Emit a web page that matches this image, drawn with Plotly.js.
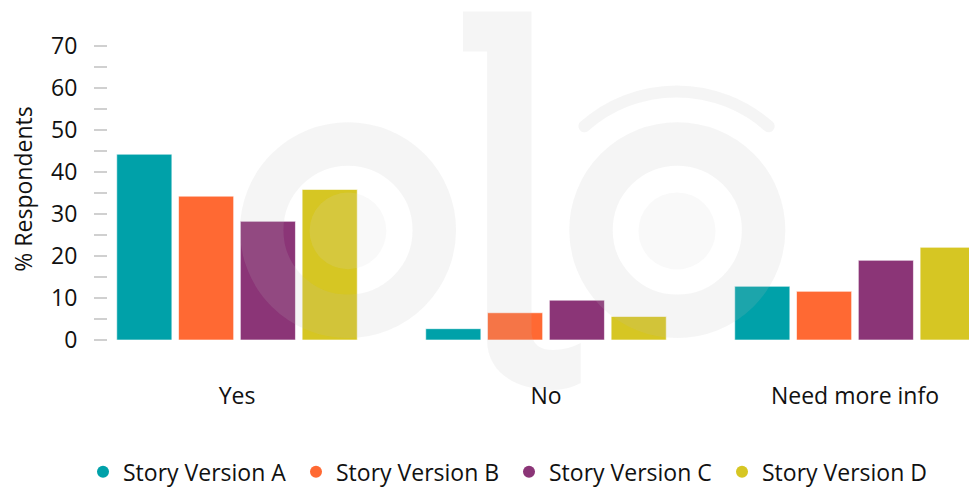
<!DOCTYPE html>
<html>
<head>
<meta charset="utf-8">
<script src="https://cdn.plot.ly/plotly-3.0.1.min.js"></script>
<style>html,body{margin:0;padding:0;background:#fff;overflow:hidden}#chart{width:969px;height:489px}</style>
</head>
<body>
<div id="chart"></div>
<script>
const categories = ["Yes", "No", "Need more info"];
const seriesNames = ["Story Version A", "Story Version B", "Story Version C", "Story Version D"];
const versionA = [44.3, 2.7, 12.8];
const versionB = [34.3, 6.5, 11.6];
const versionC = [28.3, 9.5, 19.0];
const versionD = [35.9, 5.6, 22.1];
const colors = ["#00a1a9", "#ff6933", "#8b3577", "#d6c623"];
const yTicks = [0, 10, 20, 30, 40, 50, 60, 70];

const seriesValues = [versionA, versionB, versionC, versionD];
const FONT = "Open Sans, Noto Sans, sans-serif";
const FS = 23;

const traces = [];
seriesValues.forEach((vals, i) => {
  traces.push({
    type: "bar", x: categories, y: vals, name: seriesNames[i],
    marker: {color: colors[i], line: {color: "rgba(255,255,255,0.6)", width: 1}},
    showlegend: false, hoverinfo: "y"
  });
});
seriesValues.forEach((vals, i) => {
  traces.push({
    type: "scatter", mode: "markers", x: [null], y: [null], name: seriesNames[i],
    marker: {color: colors[i], size: 12, symbol: "circle"}, showlegend: true
  });
});

const W = 969, H = 489, L = 108, T = 37.6, B = 149;
const plotW = W - L, plotH = H - T - B;

const svg = `<svg xmlns="http://www.w3.org/2000/svg" width="969" height="489" viewBox="0 0 969 489">
<circle cx="348" cy="230" r="86.3" fill="none" stroke="rgba(187,187,187,0.15)" stroke-width="43.5"/>
<circle cx="348" cy="230.8" r="38.4" fill="rgba(215,215,215,0.15)"/>
<circle cx="677.3" cy="230" r="86.3" fill="none" stroke="rgba(187,187,187,0.15)" stroke-width="43.5"/>
<circle cx="677" cy="230.8" r="38.6" fill="rgba(215,215,215,0.15)"/>
<path d="M 584.4,126 A 139,139 0 0 1 768.7,126" fill="none" stroke="rgba(187,187,187,0.15)" stroke-width="12" stroke-linecap="round"/>
<path d="M 463,11 L 531.5,11 L 531.5,333 Q 533,350 553,350 Q 568,350 580.7,343 L 580.7,383 Q 568,390 553,390 C 515,390 487.1,372 487.1,340 L 487.1,51 L 463,51 Z" fill="rgba(187,187,187,0.15)"/>
</svg>`;
const svgUri = "data:image/svg+xml;charset=utf-8," + encodeURIComponent(svg);

const layout = {
  width: W, height: H,
  margin: {l: L, r: 0, t: T, b: B, pad: 0, autoexpand: false},
  paper_bgcolor: "#ffffff", plot_bgcolor: "rgba(0,0,0,0)",
  font: {family: FONT, size: FS, color: "#111"},
  barmode: "group", bargap: 0.2, bargroupgap: 0.108,
  xaxis: {
    type: "category", range: [-0.4175, 2.369], automargin: false,
    showgrid: false, zeroline: false, showline: false, ticks: "",
    ticklabelstandoff: 40,
    tickfont: {family: FONT, size: FS, color: "#111"}
  },
  yaxis: {
    range: [0, 72], tickvals: yTicks, ticktext: yTicks.map(String),
    showgrid: false, zeroline: false, showline: false,
    ticks: "outside", ticklen: 13, tickwidth: 2, tickcolor: "#d0d0d0",
    minor: {dtick: 5, tick0: 0, ticks: "outside", ticklen: 13, tickwidth: 2, tickcolor: "#d0d0d0", showgrid: false},
    ticklabelstandoff: 12,
    tickfont: {family: FONT, size: FS, color: "#111"},
    title: {text: "% Respondents", font: {family: FONT, size: FS, color: "#111"}, standoff: 12},
    automargin: false
  },
  showlegend: true,
  legend: {
    orientation: "h", x: (509 - L) / plotW, xanchor: "center", y: -(472 - 340) / plotH, yanchor: "middle",
    font: {family: FONT, size: FS, color: "#111"}, traceorder: "normal",
    itemsizing: "constant", entrywidth: 168, entrywidthmode: "pixels"
  },
  images: [{
    source: svgUri, xref: "paper", yref: "paper",
    x: -L / plotW, y: 1 + T / plotH, sizex: W / plotW, sizey: H / plotH,
    xanchor: "left", yanchor: "top", sizing: "stretch", layer: "above", opacity: 1
  }]
};

Plotly.newPlot("chart", traces, layout, {staticPlot: true, displayModeBar: false});
</script>
</body>
</html>
